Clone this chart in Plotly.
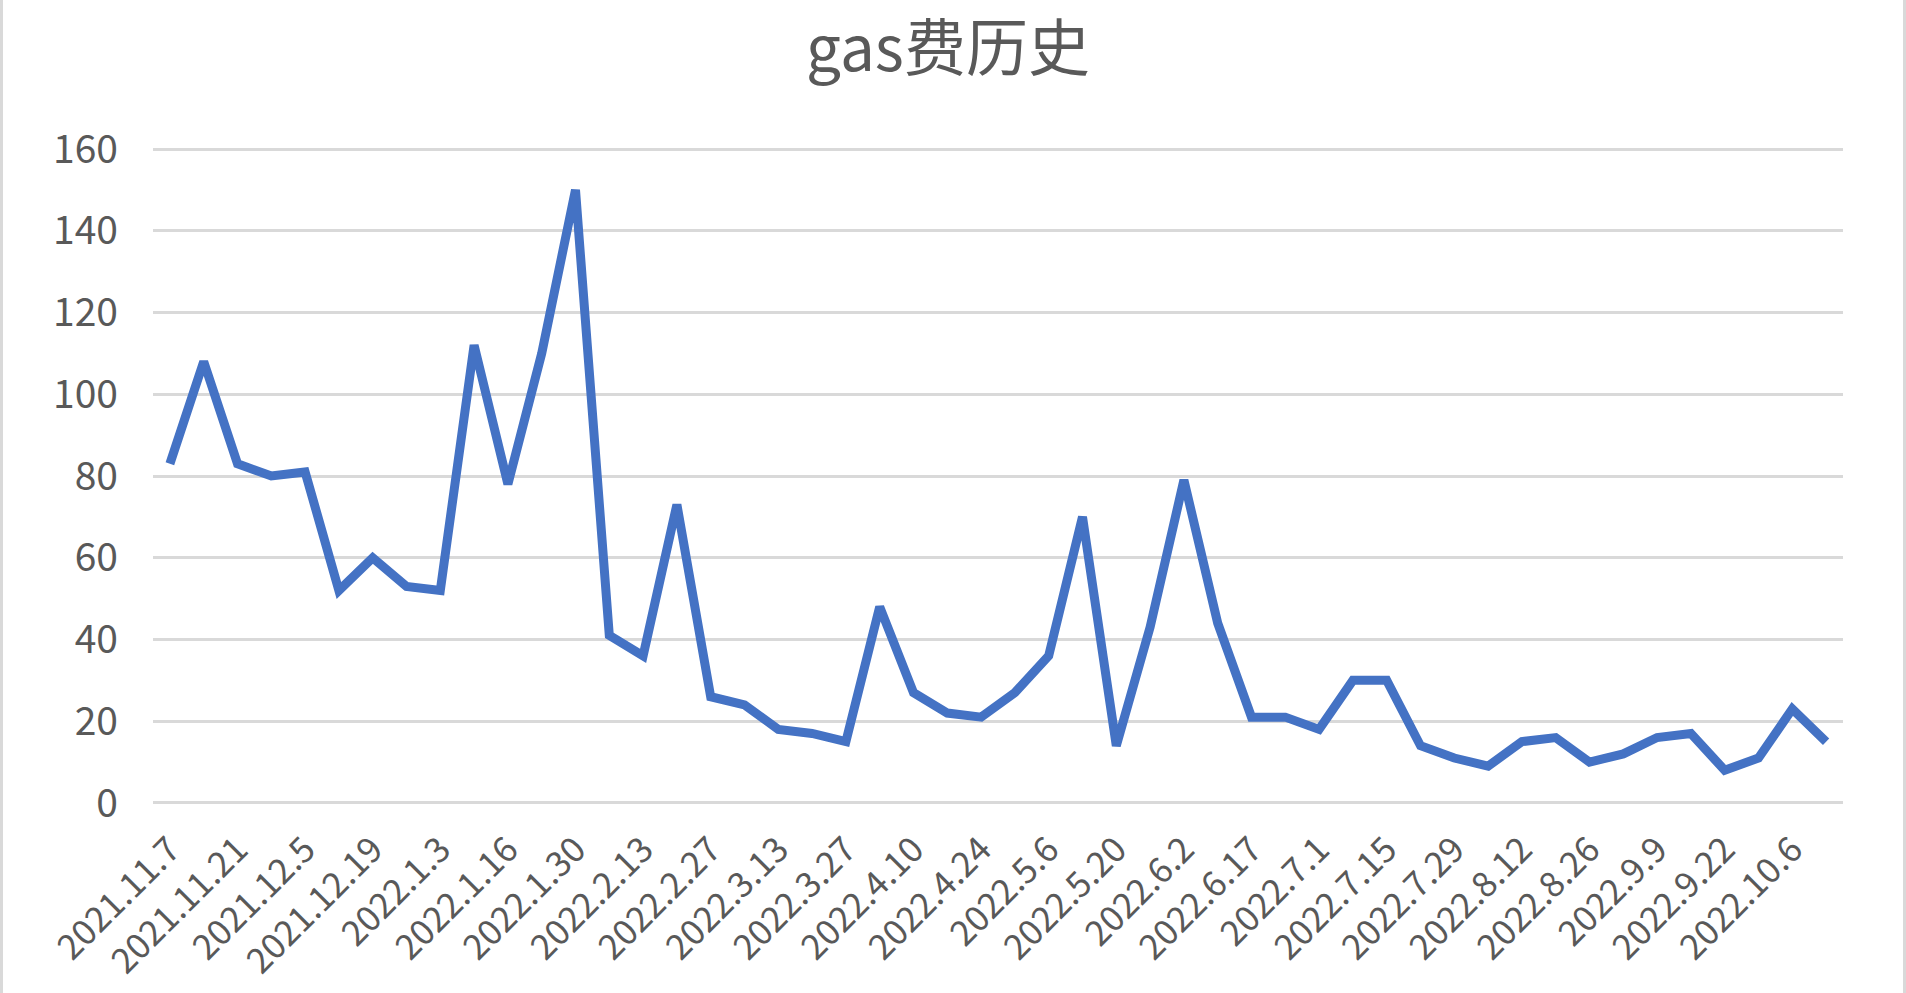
import plotly.graph_objects as go

dates = [
    "2021.11.7", "2021.11.14", "2021.11.21", "2021.11.28", "2021.12.5", "2021.12.12",
    "2021.12.19", "2021.12.26", "2022.1.3", "2022.1.9", "2022.1.16", "2022.1.23",
    "2022.1.30", "2022.2.6", "2022.2.13", "2022.2.20", "2022.2.27", "2022.3.6",
    "2022.3.13", "2022.3.20", "2022.3.27", "2022.4.3", "2022.4.10", "2022.4.17",
    "2022.4.24", "2022.4.30", "2022.5.6", "2022.5.13", "2022.5.20", "2022.5.27",
    "2022.6.2", "2022.6.10", "2022.6.17", "2022.6.24", "2022.7.1", "2022.7.8",
    "2022.7.15", "2022.7.22", "2022.7.29", "2022.8.5", "2022.8.12", "2022.8.19",
    "2022.8.26", "2022.9.2", "2022.9.9", "2022.9.16", "2022.9.22", "2022.9.29",
    "2022.10.6", "2022.10.13",
]
gas = [
    83, 108, 83, 80, 81, 52, 60, 53, 52, 112,
    78, 110, 150, 41, 36, 73, 26, 24, 18, 17,
    15, 48, 27, 22, 21, 27, 36, 70, 14, 43,
    79, 44, 21, 21, 18, 30, 30, 14, 11, 9,
    15, 16, 10, 12, 16, 17, 8, 11, 23, 15,
]
shown_ticks = dates[::2]
y_ticks = [0, 20, 40, 60, 80, 100, 120, 140, 160]

font_family = "Noto Sans CJK SC, DejaVu Sans, sans-serif"
text_color = "#595959"

fig = go.Figure()
fig.add_trace(go.Scatter(
    x=dates, y=gas, mode="lines",
    line=dict(color="#4472C4", width=9),
    hoverinfo="x+y",
))

L, R, T, B = 153, 63, 147, 188
W, H = 1906, 993
pw = W - L - R

fig.update_layout(
    width=W, height=H,
    margin=dict(l=L, r=R, t=T, b=B, autoexpand=False),
    paper_bgcolor="white", plot_bgcolor="white",
    showlegend=False,
    title=dict(text="gas费历史", x=948 / W, xanchor="center", y=1 - 49 / H, yanchor="middle",
               font=dict(family=font_family, size=62, color=text_color)),
    font=dict(family=font_family, color=text_color),
    xaxis=dict(
        type="category", range=[-0.5, len(dates) - 0.5],
        tickmode="array", tickvals=shown_ticks, ticktext=shown_ticks,
        tickangle=-45, tickfont=dict(size=35, color=text_color),
        showgrid=False, zeroline=False, showline=False, ticks="",
        ticklabelstandoff=16, automargin=False,
    ),
    yaxis=dict(
        range=[-0.5, 160.5], tickmode="array", tickvals=y_ticks,
        tickfont=dict(size=39, color=text_color),
        showgrid=True, gridcolor="#d9d9d9", gridwidth=2.5,
        zeroline=True, zerolinecolor="#d9d9d9", zerolinewidth=2.5,
        showline=False, ticks="",
        ticklabelstandoff=34, automargin=False,
    ),
    shapes=[
        dict(type="line", xref="paper", yref="paper",
             x0=-(L - 1.5) / pw, x1=-(L - 1.5) / pw, y0=-1, y1=2,
             line=dict(color="#d9d9d9", width=3), layer="below"),
        dict(type="line", xref="paper", yref="paper",
             x0=1 + (R - 1.5) / pw, x1=1 + (R - 1.5) / pw, y0=-1, y1=2,
             line=dict(color="#d9d9d9", width=3), layer="below"),
    ],
)

fig.write_html(
    "out.html",
    config={"displayModeBar": False},
    post_script="document.body.style.margin='0';document.body.style.overflow='hidden';",
)
